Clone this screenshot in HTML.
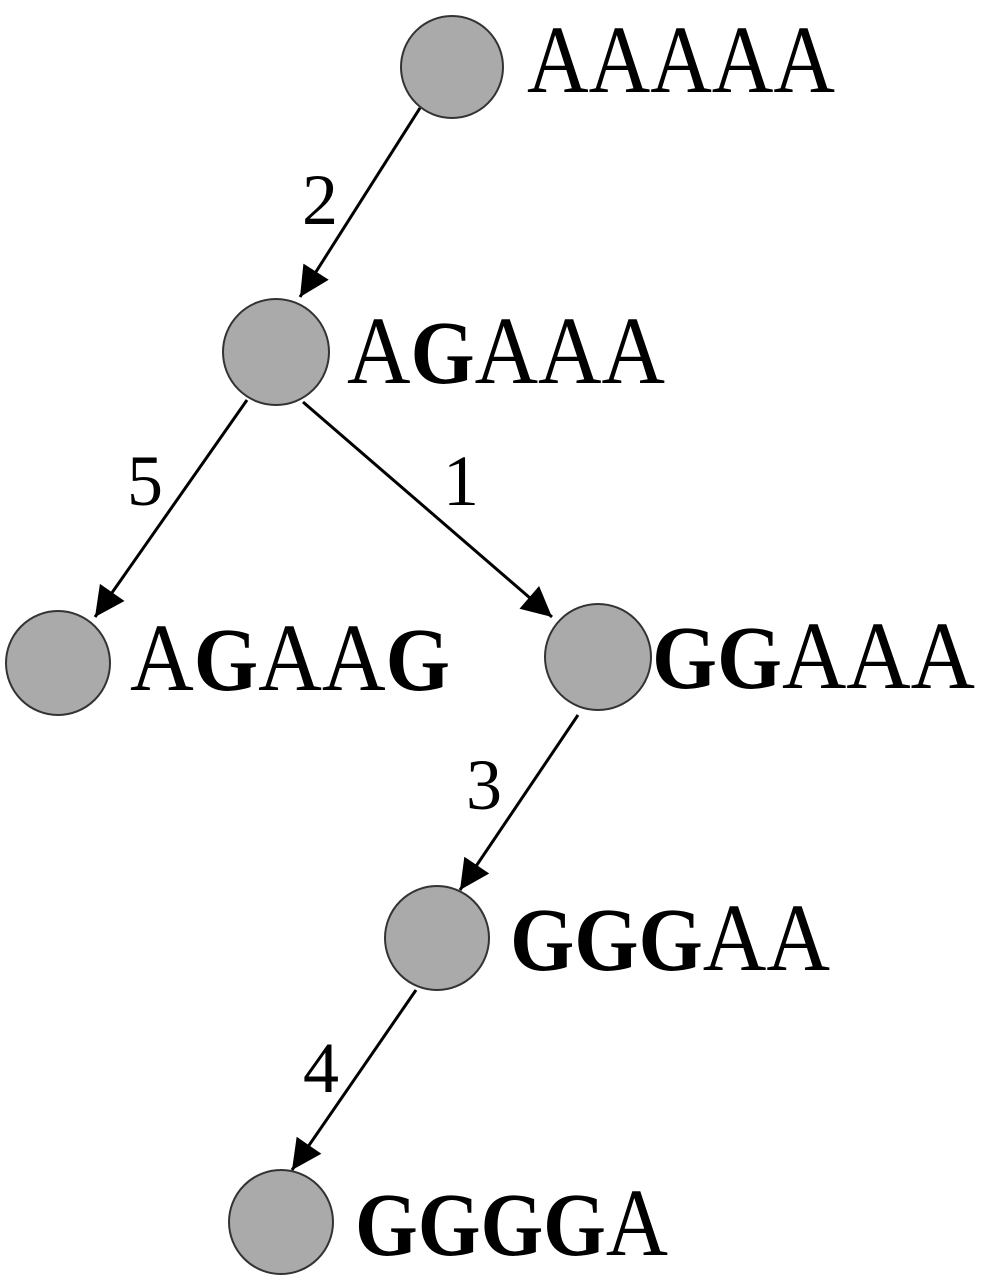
<!DOCTYPE html>
<html><head><meta charset="utf-8"><style>
body{margin:0;background:#fff}
svg text{font-family:"Liberation Serif",serif}
.a{font-size:96px}
.g{font-size:90px;font-weight:bold;font-family:"Liberation Serif",serif}
.n{font-size:72px}
</style></head><body>
<svg width="997" height="1280" viewBox="0 0 997 1280" xmlns="http://www.w3.org/2000/svg">
<defs>
<marker id="ah" viewBox="0 0 10 10" refX="10" refY="5" markerWidth="34" markerHeight="30" orient="auto" markerUnits="userSpaceOnUse"><path d="M0,0 L10,5 L0,10 z" fill="#000"/></marker></defs>
<g stroke="#000" stroke-width="3" fill="none">
<line x1="420" y1="108" x2="300" y2="297" marker-end="url(#ah)"/>
<line x1="247" y1="400" x2="95" y2="617" marker-end="url(#ah)"/>
<line x1="303" y1="402" x2="552" y2="617" marker-end="url(#ah)"/>
<line x1="578" y1="715" x2="460" y2="890" marker-end="url(#ah)"/>
<line x1="416" y1="990" x2="292" y2="1170" marker-end="url(#ah)"/>
</g>
<g fill="#aaa" stroke="#333" stroke-width="2">
<circle cx="452" cy="67" r="51"/>
<circle cx="276" cy="352" r="53"/>
<circle cx="58" cy="663" r="52"/>
<circle cx="598" cy="657" r="53"/>
<circle cx="437" cy="938" r="52"/>
<circle cx="281" cy="1222" r="52"/>
</g>
<g class="n">
<text x="302" y="224">2</text>
<text x="127" y="505">5</text>
<text x="443" y="505">1</text>
<text x="466" y="809">3</text>
<text x="303" y="1092">4</text>
</g>
<text class="a" x="527" y="92" textLength="308" lengthAdjust="spacingAndGlyphs">AAAAA</text>
<text x="347" y="383" textLength="318" lengthAdjust="spacingAndGlyphs"><tspan class="a">A</tspan><tspan class="g">G</tspan><tspan class="a">AAA</tspan></text>
<text x="130" y="690" textLength="320" lengthAdjust="spacingAndGlyphs"><tspan class="a">A</tspan><tspan class="g">G</tspan><tspan class="a">AA</tspan><tspan class="g">G</tspan></text>
<text x="652" y="688" textLength="323" lengthAdjust="spacingAndGlyphs"><tspan class="g">GG</tspan><tspan class="a">AAA</tspan></text>
<text x="510" y="970" textLength="320" lengthAdjust="spacingAndGlyphs"><tspan class="g">GGG</tspan><tspan class="a">AA</tspan></text>
<text x="355" y="1255" textLength="313" lengthAdjust="spacingAndGlyphs"><tspan class="g">GGGG</tspan><tspan class="a">A</tspan></text>
</svg>
</body></html>
